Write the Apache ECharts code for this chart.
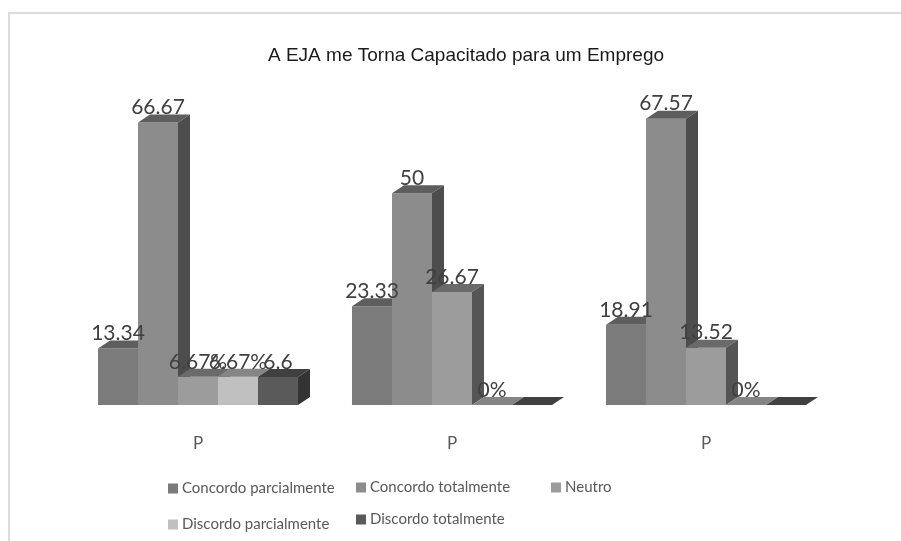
<!DOCTYPE html>
<html>
<head>
<meta charset="utf-8">
<script src="https://cdn.jsdelivr.net/npm/echarts@6/dist/echarts.min.js"></script>
<style>
  html, body { margin: 0; padding: 0; background: #fff; }
  #chart { width: 901px; height: 541px; }
</style>
</head>
<body>
<div id="chart"></div>
<script>
const categories = ['P', 'P', 'P']
const seriesNames = ['Concordo parcialmente', 'Concordo totalmente', 'Neutro', 'Discordo parcialmente', 'Discordo totalmente']

const concordoParcial = [13.34, 23.33, 18.91]
const concordoTotal = [66.67, 50, 67.57]
const neutro = [6.67, 26.67, 13.52]
const discordoParcial = [6.67, 0, 0]
const discordoTotal = [6.6, 0, 0]

const labelsConcordoParcial = ['13.34', '23.33', '18.91']
const labelsConcordoTotal = ['66.67', '50', '67.57']
const labelsNeutro = ['6.67%', '26.67', '13.52']
const labelsDiscordoParcial = ['6.67%', '0%', '0%']
const labelsDiscordoTotal = ['6.6', '', '']

const values = [concordoParcial, concordoTotal, neutro, discordoParcial, discordoTotal]
const labels = [labelsConcordoParcial, labelsConcordoTotal, labelsNeutro, labelsDiscordoParcial, labelsDiscordoTotal]

// front / top / side face of each 3d bar
const faces = [
  ['#7b7b7b', '#5e5e5e', '#4d4d4d'],
  ['#8c8c8c', '#5e5e5e', '#4d4d4d'],
  ['#9c9c9c', '#6a6a6a', '#555555'],
  ['#c0c0c0', '#858585', '#777777'],
  ['#5a5a5a', '#404040', '#333333']
]
const dx = 12
const dy = 8
const barShare = 0.1575

function barBox (api, i) {
  const catW = api.size([1, 0])[0]
  const barW = catW * barShare
  const base = api.coord([api.value(0), 0])
  const top = api.coord([api.value(0), api.value(1)])
  const x0 = base[0] + (i - 2.5) * barW
  return { x0: x0, x1: x0 + barW, w: barW, yb: base[1], yt: top[1] }
}

function renderBar (params, api) {
  const i = params.seriesIndex
  const b = barBox(api, i)
  const c = faces[i]
  return {
    type: 'group',
    children: [
      { type: 'rect', shape: { x: b.x0, y: b.yt, width: b.w, height: b.yb - b.yt }, style: { fill: c[0] } },
      { type: 'polygon', shape: { points: [[b.x0, b.yt], [b.x1, b.yt], [b.x1 + dx, b.yt - dy], [b.x0 + dx, b.yt - dy]] }, style: { fill: c[1] } },
      { type: 'polygon', shape: { points: [[b.x1, b.yt], [b.x1 + dx, b.yt - dy], [b.x1 + dx, b.yb - dy], [b.x1, b.yb]] }, style: { fill: c[2] } }
    ]
  }
}

// labels drawn in their own series so they sit above every bar
const labelData = []
values.forEach((arr, i) => arr.forEach((v, k) => labelData.push([k, v, i, labels[i][k]])))

function renderLabel (params, api) {
  const i = api.value(2)
  const b = barBox(api, i)
  return {
    type: 'text',
    style: {
      text: labelData[params.dataIndex][3],
      x: b.x0 + b.w / 2,
      y: b.yt - 15,
      align: 'center',
      verticalAlign: 'middle',
      fontFamily: 'Lato',
      fontSize: 21,
      fill: '#404040'
    }
  }
}

const legendPos = [
  [163, 476], [351, 475], [546, 475], [163, 512], [351, 507]
]

const chart = echarts.init(document.getElementById('chart'))
chart.setOption({
  animation: false,
  backgroundColor: '#fff',
  title: {
    text: 'A EJA me Torna Capacitado para um Emprego',
    left: 263,
    top: 41,
    textStyle: { fontFamily: 'Liberation Sans', fontWeight: 'normal', fontSize: 19, color: '#1a1a1a' }
  },
  graphic: [
    { type: 'line', shape: { x1: 8, y1: 13, x2: 901, y2: 13 }, style: { stroke: '#dcdcdc', lineWidth: 2 } },
    { type: 'line', shape: { x1: 9, y1: 13, x2: 9, y2: 541 }, style: { stroke: '#dcdcdc', lineWidth: 2 } }
  ],
  legend: seriesNames.map((name, k) => ({
    data: [name],
    left: legendPos[k][0],
    top: legendPos[k][1],
    itemWidth: 10,
    itemHeight: 10,
    itemGap: 4,
    icon: 'rect',
    selectedMode: false,
    textStyle: { fontFamily: 'Lato', fontSize: 15, color: '#595959', padding: [0, 0, 0, -1] }
  })),
  grid: { left: 71, right: 68, top: 66, bottom: 136 },
  xAxis: {
    type: 'category',
    data: categories,
    axisLine: { show: false },
    axisTick: { show: false },
    axisLabel: { margin: 30, fontFamily: 'Lato', fontSize: 17, color: '#595959' }
  },
  yAxis: {
    type: 'value',
    min: 0,
    max: 80,
    show: false
  },
  series: seriesNames.map((name, i) => ({
    type: 'custom',
    name: name,
    itemStyle: { color: faces[i][0] },
    renderItem: renderBar,
    encode: { x: 0, y: 1 },
    data: values[i].map((v, k) => [k, v])
  })).concat([{
    type: 'custom',
    z: 5,
    renderItem: renderLabel,
    encode: { x: 0, y: 1 },
    data: labelData
  }])
})
</script>
</body>
</html>
